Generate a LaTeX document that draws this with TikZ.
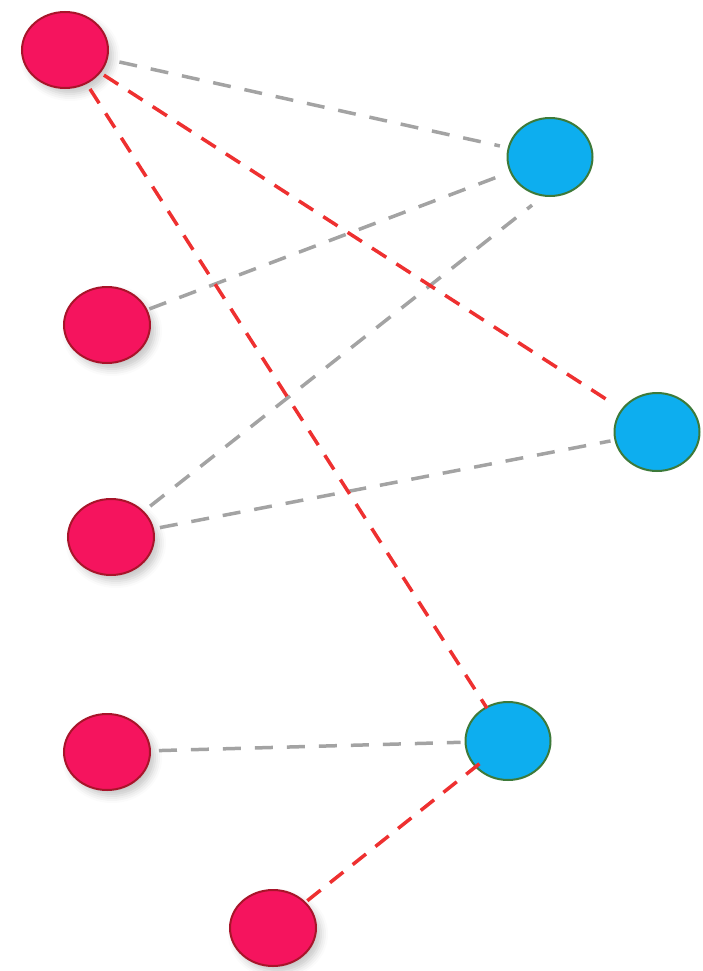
\documentclass[tikz,border=0pt]{standalone}
\usetikzlibrary{shapes.geometric,shadows.blur}
\definecolor{rfill}{HTML}{F5145E}
\definecolor{rdraw}{HTML}{A8142A}
\definecolor{bfill}{HTML}{0DAEEF}
\definecolor{bdraw}{HTML}{3D7A3A}
\definecolor{gline}{HTML}{A3A3A3}
\definecolor{rline}{HTML}{EE3030}
\tikzset{
  rnode/.style={ellipse, minimum width=86pt, minimum height=76pt, inner sep=0pt,
    fill=rfill, draw=rdraw, line width=2pt,
    blur shadow={shadow xshift=5pt, shadow yshift=-6pt, shadow blur radius=7pt, shadow opacity=22}},
  bnode/.style={ellipse, minimum width=85pt, minimum height=78pt, inner sep=0pt,
    fill=bfill, draw=bdraw, line width=2pt},
  gedge/.style={draw=gline, line width=3.5pt, dash pattern=on 18pt off 14pt},
  redge/.style={draw=rline, line width=3.5pt, dash pattern=on 17pt off 12pt},
}
\begin{document}
\begin{tikzpicture}[x=1pt,y=-1pt]
\useasboundingbox (0,0) rectangle (702,971);
\node[rnode] (r1) at (65,50) {};
\node[rnode] (r2) at (107,325) {};
\node[rnode] (r3) at (111,537) {};
\node[rnode] (r4) at (107,752) {};
\node[rnode] (r5) at (273,928) {};
\node[bnode] (b1) at (550,157) {};
\node[bnode] (b2) at (657,432) {};
\node[bnode] (b3) at (508,741) {};
\draw[gedge, shorten <=12pt, shorten >=8pt] (r1) -- (b1);
\draw[gedge, shorten <=2pt, shorten >=6pt] (r2) -- (b1);
\draw[gedge, shorten <=8pt, shorten >=14pt] (r3) -- (b1.-100);
\draw[gedge, shorten <=6pt, shorten >=4pt] (r3) -- (b2);
\draw[gedge, shorten <=8pt, shorten >=4pt] (r4) -- (b3);
\draw[redge, shorten <=4pt, shorten >=10pt] (r1) -- (b2);
\draw[redge, shorten <=6pt, shorten >=-2pt] (r1) -- (b3);
\draw[redge, shorten <=2pt, shorten >=-8pt] (r5) -- (b3);
\end{tikzpicture}
\end{document}
